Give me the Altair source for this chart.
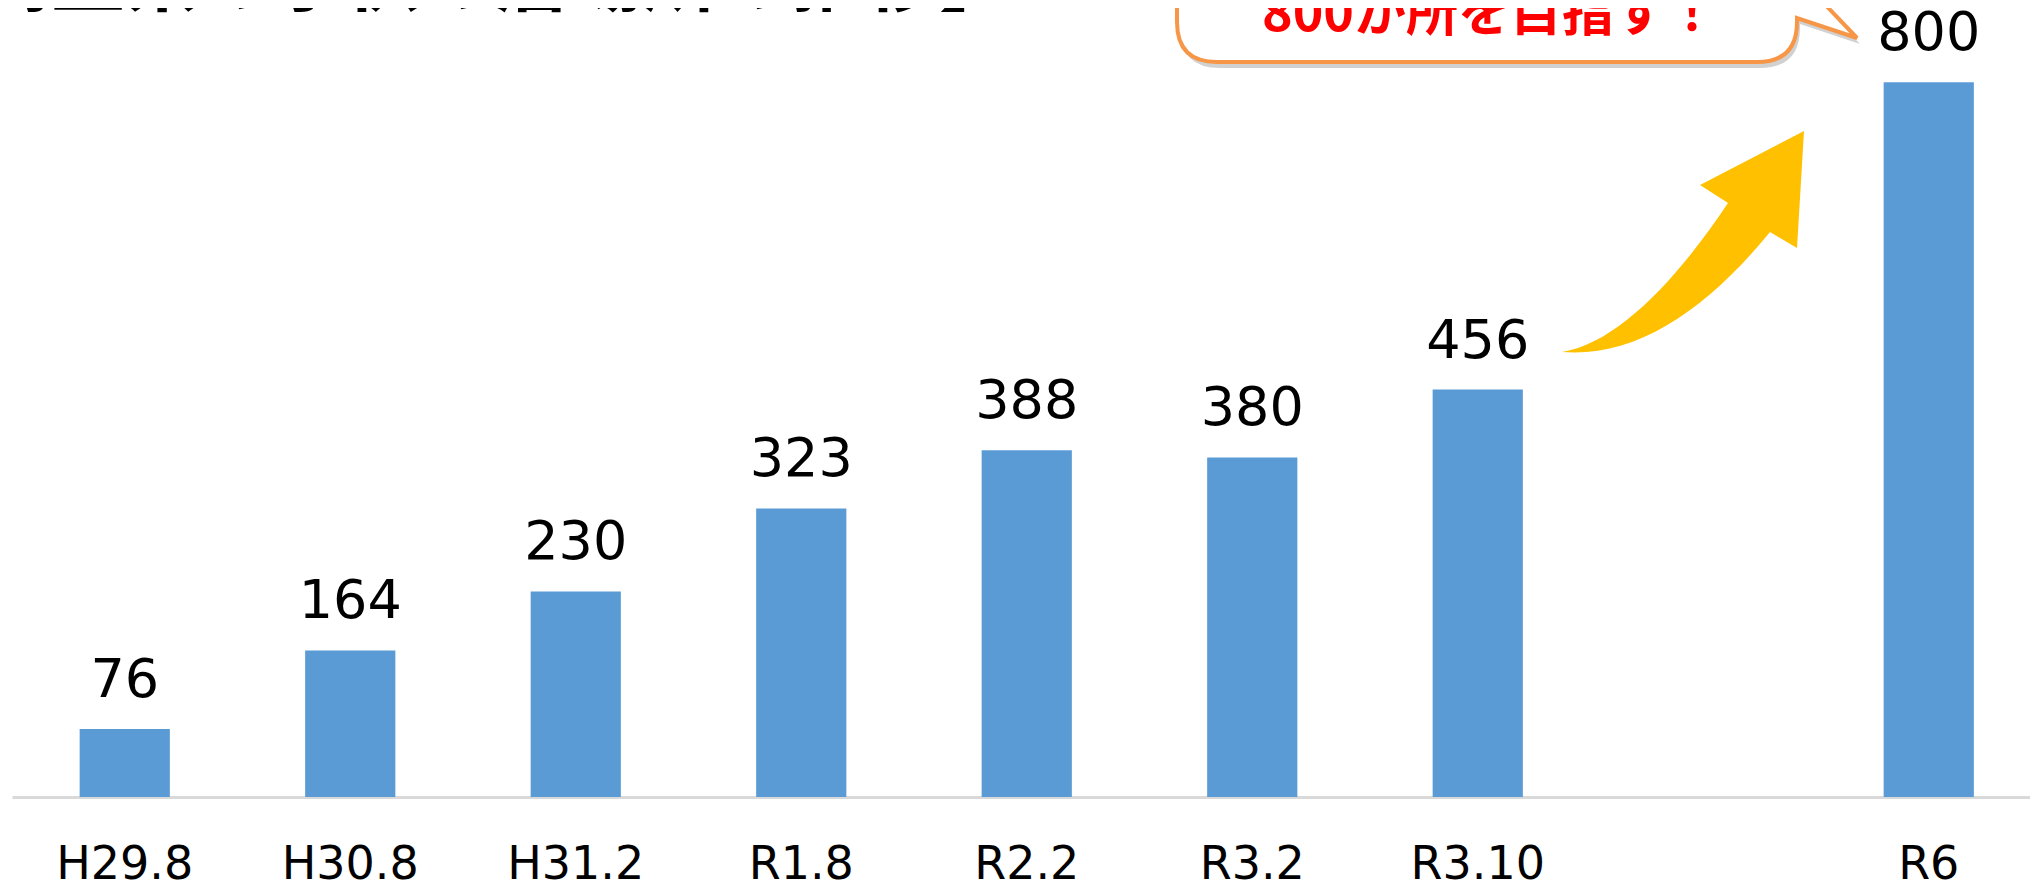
import altair as alt
import pandas as pd

# ---- data ----
categories = ["H29.8", "H30.8", "H31.2", "R1.8", "R2.2", "R3.2", "R3.10", " ", "R6"]
bar_categories = ["H29.8", "H30.8", "H31.2", "R1.8", "R2.2", "R3.2", "R3.10", "R6"]
bar_values = [76, 164, 230, 323, 388, 380, 456, 800]
title_text = "【埼玉県の子供の居場所の推移】"
callout_text = "800か所を目指す！"

df = pd.DataFrame({"cat": bar_categories, "val": bar_values})
one = pd.DataFrame({"a": [0]})

W = 2022
H = 789

xscale = alt.Scale(domain=categories, range=[4, 2033.5], paddingInner=0.6, paddingOuter=0.3)
yscale = alt.Scale(domain=[0, 883], nice=False, zero=True)

bars = alt.Chart(df).mark_bar(color="#5B9BD5").encode(
    x=alt.X("cat:N", scale=xscale, sort=categories, title=None,
            axis=alt.Axis(labelFont="DejaVu Sans", labelFontSize=46, labelColor="#000000",
                          labelAngle=0, ticks=False, tickSize=0, labelPadding=81,
                          labelBaseline="alphabetic", domainColor="#D9D9D9", domainWidth=3,
                          grid=False)),
    y=alt.Y("val:Q", scale=yscale, axis=None),
)

labels = alt.Chart(df).mark_text(font="DejaVu Sans", fontSize=54, color="#000000",
                                 baseline="alphabetic", dy=-32).encode(
    x=alt.X("cat:N", scale=xscale, sort=categories),
    y=alt.Y("val:Q", scale=yscale),
    text=alt.Text("val:Q"),
)


def callout_path(dx=0, dy=0):
    pts = [
        ("M", 1169, -80), ("L", 1169, 14), ("Q", 1169, 54, 1209, 54), ("L", 1749, 54),
        ("Q", 1789, 54, 1789, 14), ("L", 1789, 10), ("L", 1849, 30), ("L", 1789, -33),
        ("L", 1789, -80),
    ]
    out = []
    for p in pts:
        cmd = p[0]
        nums = list(p[1:])
        coords = []
        for i in range(0, len(nums), 2):
            coords.append(f"{nums[i] + dx},{nums[i + 1] + dy}")
        out.append(cmd + " " + " ".join(coords))
    return " ".join(out) + " Z"


arrow_path = ("M 1554,344 C 1630,350 1700,300 1762,224 L 1789,240 L 1796,123 "
              "L 1692,177 L 1720,195 C 1670,270 1610,335 1554,344 Z")

arrow = alt.Chart(one).mark_point(shape=arrow_path, size=4, filled=True, fill="#FFC000",
                                  strokeWidth=0, opacity=1).encode(
    x=alt.value(0), y=alt.value(0))

shadow = alt.Chart(one).mark_point(shape=callout_path(3, 6), size=4, filled=True, fill="#000000",
                                   fillOpacity=0.18, strokeWidth=0, opacity=1).encode(
    x=alt.value(0), y=alt.value(0))

callout = alt.Chart(one).mark_point(shape=callout_path(), size=4, filled=False, fill="#FFFFFF",
                                    fillOpacity=1, stroke="#F79646", strokeWidth=4,
                                    opacity=1).encode(
    x=alt.value(0), y=alt.value(0))

callout_label = alt.Chart(one).mark_text(text=callout_text, font="Noto Sans CJK JP",
                                         fontWeight="bold", fontSize=52, color="#FF0000",
                                         align="center", baseline="alphabetic").encode(
    x=alt.value(1482), y=alt.value(23))

title = alt.Chart(one).mark_text(text=title_text, font="Noto Sans CJK JP", fontWeight="bold",
                                 fontSize=74, color="#000000", align="left",
                                 baseline="alphabetic").encode(
    x=alt.value(-105), y=alt.value(-3))

chart = alt.layer(bars, labels, arrow, shadow, callout, callout_label, title).properties(
    width=W, height=H,
    autosize=alt.AutoSizeParams(type="none"),
    padding={"left": 0, "top": 0, "right": 0, "bottom": 92},
).configure_view(stroke=None)

chart.save("out.html", embed_options={"renderer": "svg", "actions": False})
